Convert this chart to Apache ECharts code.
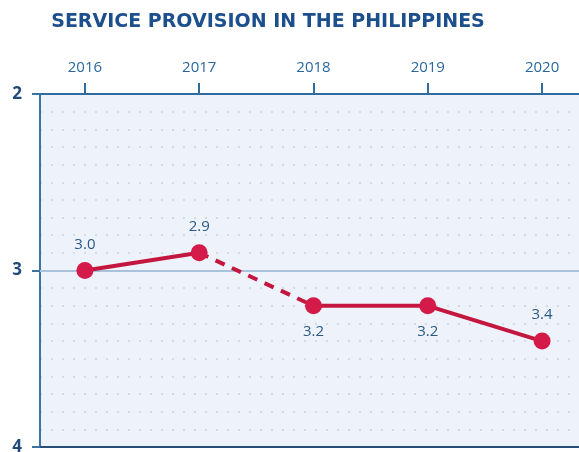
<!DOCTYPE html>
<html><head><meta charset="utf-8">
<script src="https://cdn.jsdelivr.net/npm/echarts@6/dist/echarts.min.js"></script>
<style>html,body{margin:0;padding:0;background:#fff}#c{width:579px;height:452px}</style>
</head><body><div id="c"></div>
<script>
const years = [2016, 2017, 2018, 2019, 2020];
const values = [3.0, 2.9, 3.2, 3.2, 3.4];
const labelPos = ['top', 'top', 'bottom', 'bottom', 'top'];
const yTickLabels = [2, 3, 4];
const dashedFrom = 1; // segment 2017 -> 2018 dashed

const pts = years.map((y, i) => [y, values[i]]);
const solidA = pts.slice(0, dashedFrom + 1);
const dashed = pts.slice(dashedFrom, dashedFrom + 2);
const solidB = pts.slice(dashedFrom + 1);
const toData = (arr, offset) => arr.map((p, j) => ({
  value: p,
  label: { position: labelPos[offset + j] }
}));

const chart = echarts.init(document.getElementById('c'), null, { renderer: 'canvas' });
const lineColor = '#c4173f';
const markerColor = '#d41a48';
const lblStyle = { show: true, color: '#2b5a86', fontSize: 15, fontFamily: 'Open Sans', distance: 10, formatter: p => p.value[1].toFixed(1) };

chart.setOption({
  animation: false,
  title: {
    text: 'SERVICE PROVISION IN THE PHILIPPINES',
    left: 263, top: 8, textAlign: 'center',
    textStyle: { color: '#1c4f8c', fontSize: 19, fontWeight: 'bold', fontFamily: 'DejaVu Sans' }
  },
  grid: { left: 40, right: 0, top: 94, bottom: 5, outerBoundsMode: 'none', containLabel: false, show: true, backgroundColor: '#eef3fb', borderWidth: 0 },
  xAxis: [{
    type: 'value', position: 'top', min: 2015.607, max: 2020.323,
    axisLine: { show: true, lineStyle: { color: '#2f6b9c', width: 2 } },
    axisTick: { show: true, customValues: years, length: 11, lineStyle: { color: '#2f6b9c', width: 2 } },
    axisLabel: { customValues: years, color: '#2a68a0', fontSize: 15, fontFamily: 'Open Sans', margin: 19, formatter: v => String(v) },
    splitLine: { show: false }
  }, {
    type: 'value', position: 'bottom', min: 2015.607, max: 2020.323,
    axisLine: { show: true, onZero: false, lineStyle: { color: '#2a4e78', width: 2 } },
    axisTick: { show: false }, axisLabel: { show: false }, splitLine: { show: false }
  }],
  yAxis: [{
    type: 'value', inverse: true, min: 2, max: 4, interval: 0.1,
    axisLine: { show: true, lineStyle: { color: '#3a72a0', width: 2 } },
    axisTick: { show: true, customValues: yTickLabels, length: 8, lineStyle: { color: '#3a72a0', width: 2 } },
    axisLabel: { customValues: yTickLabels, color: '#1f4a7a', fontSize: 17, fontWeight: 'bold', fontFamily: 'Open Sans', margin: 18 },
    splitLine: { show: false }
  }, {
    type: 'value', inverse: true, min: 2, max: 4, interval: 0.1, position: 'left',
    axisLine: { show: false }, axisTick: { show: false }, axisLabel: { show: false },
    splitLine: { show: true, lineStyle: { color: '#cbd3de', width: 1.5, type: [2, 9] } }
  }],
  series: [{
    type: 'line', data: dashed, symbol: 'none', z: 2,
    lineStyle: { color: lineColor, width: 4, type: [10, 8] }, label: { show: false }
  }, {
    type: 'line', data: toData(solidA, 0), symbol: 'circle', symbolSize: 17, z: 3,
    lineStyle: { color: lineColor, width: 4 }, itemStyle: { color: markerColor },
    label: lblStyle,
    markLine: {
      silent: true, symbol: 'none', label: { show: false },
      lineStyle: { color: '#a9c3dc', width: 2, type: 'solid' },
      data: [{ yAxis: 3 }], z: 1
    }
  }, {
    type: 'line', data: toData(solidB, dashedFrom + 1), symbol: 'circle', symbolSize: 17, z: 3,
    lineStyle: { color: lineColor, width: 4 }, itemStyle: { color: markerColor },
    label: lblStyle
  }]
});
</script></body></html>
